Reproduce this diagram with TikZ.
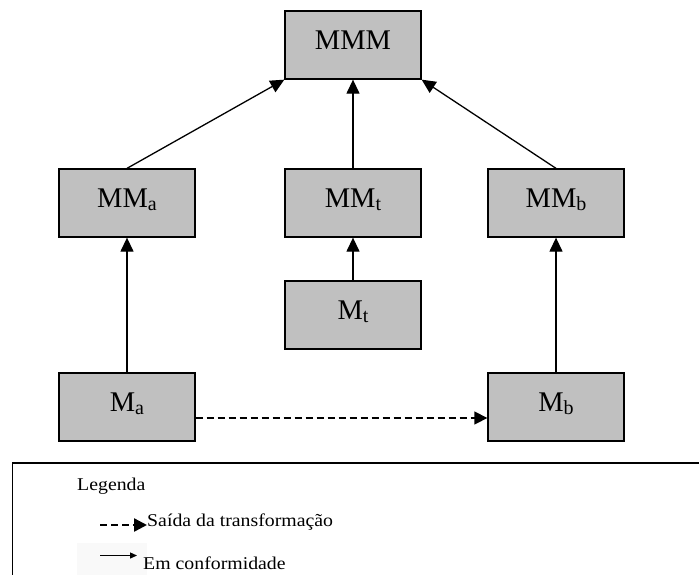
\documentclass[tikz,border=0pt]{standalone}
\usepackage{fontspec}
\setmainfont{Liberation Serif}
\usetikzlibrary{arrows.meta}
\definecolor{boxgray}{HTML}{C0C0C0}
% lowered, smaller index letter used in the box labels
\newcommand{\lowidx}[1]{\raisebox{-3.5pt}{\fontsize{20}{20}\selectfont #1}}

\begin{document}
\begin{tikzpicture}[x=1pt,y=-1pt,
  mbox/.style={draw=black, line width=1.3pt, fill=boxgray,
    minimum width=136pt, minimum height=68pt, inner sep=0pt,
    font=\fontsize{28.5}{30}\selectfont, text height=19pt, text depth=11pt},
  conf/.style={line width=1.3pt, -{Triangle[length=14pt,width=13pt]}},
  saida/.style={line width=1.3pt, dash pattern=on 7pt off 4pt,
    -{Triangle[length=13pt,width=13pt]}},
  legtext/.style={anchor=base west, inner sep=0pt,
    font=\fontsize{18}{18}\selectfont, xscale=1.1}]

\useasboundingbox (0,0) rectangle (699,574);

% model boxes
\node[mbox] (MMM) at (353,45)  {MMM};
\node[mbox] (MMa) at (127,203) {MM\lowidx{a}};
\node[mbox] (MMt) at (353,203) {MM\lowidx{t}};
\node[mbox] (MMb) at (556,203) {MM\lowidx{b}};
\node[mbox] (Mt)  at (353,315) {M\lowidx{t}};
\node[mbox] (Ma)  at (127,407) {M\lowidx{a}};
\node[mbox] (Mb)  at (556,407) {M\lowidx{b}};

% conformance relations
\draw[conf] (MMa.north) -- (MMM.south west);
\draw[conf] (MMb.north) -- (MMM.south east);
\draw[conf] (MMt.north) -- (MMM.south);
\draw[conf] (Mt.north)  -- (MMt.south);
\draw[conf] (Ma.north)  -- (MMa.south);
\draw[conf] (Mb.north)  -- (MMb.south);

% transformation output
\draw[saida] ([yshift=-11pt]Ma.east) -- ([yshift=-11pt]Mb.west);

% legend frame
\coordinate (legBL) at (12.5,580);
\coordinate (legTL) at (12.5,463);
\coordinate (legTR) at (705,463);
\draw[line width=1.8pt] (legBL) -- (legTL) -- (legTR);

\fill[gray!5] (77,543) rectangle (147,580);

\node[legtext] (legTitle) at (77,490) {Legenda};

\coordinate (dashA) at (100,525);
\coordinate (dashB) at (147,525);
\draw[line width=2.4pt, dash pattern=on 7pt off 4pt,
  -{Triangle[length=13pt,width=13pt]}] (dashA) -- (dashB);
\node[legtext] (saidaTxt) at (147,526) {Saída da transformação};

\coordinate (solA) at (100,555.5);
\coordinate (solB) at (137,555.5);
\draw[line width=1.3pt, -{Triangle[length=7pt,width=6pt]}] (solA) -- (solB);
\node[legtext] (confTxt) at (143,569.5) {Em conformidade};

\end{tikzpicture}
\end{document}
